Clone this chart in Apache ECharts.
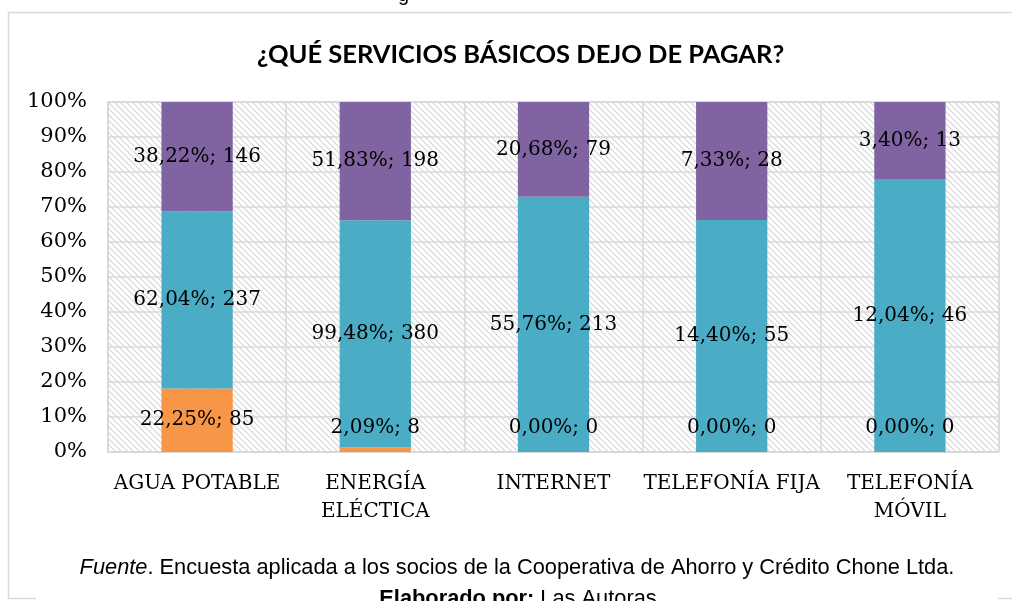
<!DOCTYPE html>
<html>
<head>
<meta charset="utf-8">
<style>
  html, body { margin: 0; padding: 0; background: #fff; }
  #chart { width: 1012px; height: 601px; }
</style>
<script src="https://cdn.jsdelivr.net/npm/echarts@6/dist/echarts.min.js"></script>
</head>
<body>
<div id="chart"></div>
<script>
// categorias del eje x
var categorias = ['AGUA POTABLE', 'ENERGÍA\nELÉCTICA', 'INTERNET', 'TELEFONÍA FIJA', 'TELEFONÍA\nMÓVIL'];

// conteos de cada serie (abajo, medio, arriba)
var conteoNaranja = [85, 8, 0, 0, 0];
var conteoCeleste = [237, 380, 213, 55, 46];
var conteoMorado = [146, 198, 79, 28, 13];

// porcentajes que muestran las etiquetas
var pctNaranja = ['22,25%', '2,09%', '0,00%', '0,00%', '0,00%'];
var pctCeleste = ['62,04%', '99,48%', '55,76%', '14,40%', '12,04%'];
var pctMorado = ['38,22%', '51,83%', '20,68%', '7,33%', '3,40%'];

// marcas del eje y
var ticksY = [0, 10, 20, 30, 40, 50, 60, 70, 80, 90, 100];

var SERIF = '"DejaVu Serif", serif';
var SANS = '"Liberation Sans", Arial, sans-serif';
var GRIS = '#d9d9d9';

// totales por categoria, para apilar al 100%
var totales = categorias.map(function (c, i) {
    return conteoNaranja[i] + conteoCeleste[i] + conteoMorado[i];
});

// fondo rayado del area de trazado
function rayado() {
    var c = document.createElement('canvas');
    c.width = 6;
    c.height = 6;
    var ctx = c.getContext('2d');
    ctx.fillStyle = '#fff';
    ctx.fillRect(0, 0, 6, 6);
    ctx.strokeStyle = '#d4d4d4';
    ctx.lineWidth = 1.1;
    ctx.beginPath();
    ctx.moveTo(-1, -1); ctx.lineTo(7, 7);
    ctx.moveTo(-4, 2); ctx.lineTo(4, 10);
    ctx.moveTo(2, -4); ctx.lineTo(10, 4);
    ctx.stroke();
    return c;
}

function serie(conteos, pcts, color, abajo) {
    return {
        type: 'bar',
        stack: 'total',
        barWidth: '40%',
        itemStyle: { color: color },
        data: conteos.map(function (n, i) {
            var item = { value: n / totales[i] * 100 };
            // segmentos muy bajos: la etiqueta sube como en Excel
            if (abajo && item.value < 8) {
                item.label = { position: 'insideBottom', distance: 14 };
            }
            return item;
        }),
        label: {
            show: true,
            position: 'inside',
            color: '#000',
            fontFamily: SERIF,
            fontSize: 20,
            formatter: function (p) {
                return pcts[p.dataIndex] + '; ' + conteos[p.dataIndex];
            }
        }
    };
}

var chart = echarts.init(document.getElementById('chart'));

var option = {
    animation: false,
    backgroundColor: '#fff',
    title: {
        text: '¿QUÉ SERVICIOS BÁSICOS DEJO DE PAGAR?',
        left: 252,
        top: 37,
        textStyle: {
            fontFamily: 'Lato, sans-serif',
            fontWeight: 'bold',
            fontSize: 25.5,
            color: '#000'
        }
    },
    grid: {
        left: 108,
        right: 13,
        top: 102,
        bottom: 149,
        show: true,
        backgroundColor: { image: rayado(), repeat: 'repeat' },
        borderColor: GRIS,
        borderWidth: 1.5
    },
    xAxis: {
        type: 'category',
        data: categorias,
        axisTick: { show: false },
        axisLine: { lineStyle: { color: GRIS, width: 1.5 } },
        splitLine: { show: true, lineStyle: { color: GRIS, width: 1.5 } },
        axisLabel: {
            color: '#000',
            fontFamily: SERIF,
            fontSize: 20,
            lineHeight: 28,
            margin: 18,
            interval: 0
        }
    },
    yAxis: {
        type: 'value',
        min: ticksY[0],
        max: ticksY[ticksY.length - 1],
        interval: 10,
        axisLine: { show: true, lineStyle: { color: GRIS, width: 1.5 } },
        axisTick: { show: false },
        splitLine: { lineStyle: { color: GRIS, width: 1.5 } },
        axisLabel: {
            color: '#000',
            fontFamily: SERIF,
            fontSize: 21,
            margin: 21,
            formatter: '{value}%'
        }
    },
    series: [
        serie(conteoNaranja, pctNaranja, '#F79646', true),
        serie(conteoCeleste, pctCeleste, '#4BACC6', false),
        serie(conteoMorado, pctMorado, '#8064A2', false)
    ],
    graphic: [
        // marco exterior del grafico
        {
            type: 'rect',
            z: -10,
            silent: true,
            shape: { x: 8.5, y: 12.5, width: 1020, height: 586 },
            style: { fill: 'none', stroke: GRIS, lineWidth: 1.5 }
        },
        // caja del pie que tapa el borde inferior
        {
            type: 'rect',
            z: -5,
            silent: true,
            shape: { x: 36, y: 585, width: 962, height: 20 },
            style: { fill: '#fff' }
        },
        // resto de texto del documento, cortado arriba
        {
            type: 'text',
            x: 398,
            y: -15,
            style: { text: 'g', font: '20px ' + SANS, fill: '#000' }
        },
        {
            type: 'text',
            x: 517,
            y: 568,
            style: {
                text: '{i|Fuente}{n|. Encuesta aplicada a los socios de la Cooperativa de Ahorro y Crédito Chone Ltda.}',
                align: 'center',
                verticalAlign: 'middle',
                rich: {
                    i: { fontFamily: SANS, fontStyle: 'italic', fontSize: 21.8, fill: '#000' },
                    n: { fontFamily: SANS, fontSize: 21.8, fill: '#000' }
                }
            }
        },
        {
            type: 'text',
            x: 518,
            y: 599,
            style: {
                text: '{b|Elaborado por:}{n| Las Autoras}',
                align: 'center',
                verticalAlign: 'middle',
                rich: {
                    b: { fontFamily: SANS, fontWeight: 'bold', fontSize: 21.8, fill: '#000' },
                    n: { fontFamily: SANS, fontSize: 21.8, fill: '#000' }
                }
            }
        }
    ]
};

chart.setOption(option);
</script>
</body>
</html>
